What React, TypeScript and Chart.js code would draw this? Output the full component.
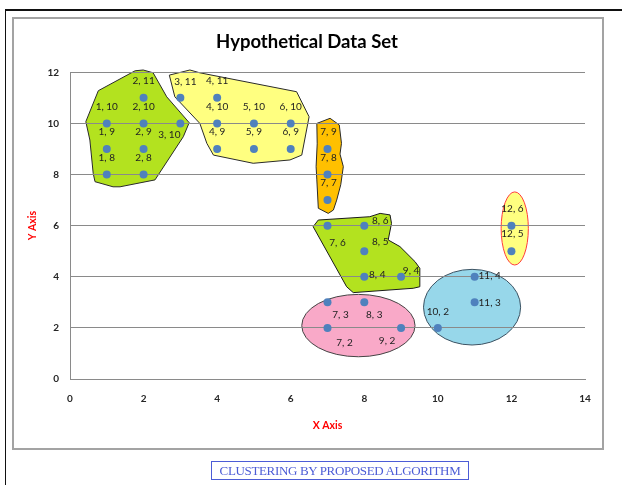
import React, { useEffect, useRef } from "react";
import { Chart, registerables } from "chart.js";

Chart.register(...registerables);

// ---------- text ----------
const TITLE = "Hypothetical Data Set";
const X_TITLE = "X Axis";
const Y_TITLE = "Y Axis";
const CAPTION = "CLUSTERING BY PROPOSED ALGORITHM";

// ---------- data ----------
const X_VALUES = [1, 1, 1, 2, 2, 2, 2, 3, 3, 4, 4, 4, 5, 5, 6, 6, 7, 7, 7, 7, 8, 8, 8, 9, 7, 8, 7, 9, 10, 11, 11, 12, 12];
const Y_VALUES = [10, 9, 8, 11, 10, 9, 8, 11, 10, 11, 10, 9, 10, 9, 10, 9, 9, 8, 7, 6, 6, 5, 4, 4, 3, 3, 2, 2, 2, 4, 3, 6, 5];

const X_TICKS = [0, 2, 4, 6, 8, 10, 12, 14];
const Y_TICKS = [0, 2, 4, 6, 8, 10, 12];

// cluster outlines (data units)
const CLUSTER_GREEN_TOP: [number, number][] = [
  [0.43, 10.07], [0.77, 11.28], [1.77, 12.06], [1.99, 12.09], [2.26, 11.98], [2.63, 11.04],
  [3.24, 10.03], [3.08, 9.48], [2.31, 7.79], [1.36, 7.52], [1.17, 7.52], [0.68, 7.72],
  [0.63, 8.05], [0.54, 9.35],
];
const CLUSTER_YELLOW_TOP: [number, number][] = [
  [2.7, 11.89], [3.26, 12.09], [3.53, 11.98], [6.16, 11.24], [6.5, 10.26], [6.3, 8.76],
  [5.98, 8.57], [4.98, 8.44], [3.9, 8.76], [3.72, 9.22], [3.53, 10.0], [2.85, 11.04],
];
const CLUSTER_ORANGE: [number, number][] = [
  [6.71, 10.0], [7.07, 10.2], [7.32, 9.94], [7.38, 9.22], [7.34, 8.8], [7.43, 8.31],
  [7.36, 7.6], [7.25, 7.0], [7.16, 6.61], [7.02, 6.48], [6.75, 6.68], [6.71, 7.79],
  [6.69, 8.31], [6.72, 9.2],
];
const CLUSTER_GREEN_MID: [number, number][] = [
  [6.61, 5.96], [6.75, 6.22], [8.15, 6.35], [8.43, 6.48], [8.7, 6.42], [8.74, 6.09],
  [8.65, 5.44], [8.97, 5.18], [9.38, 4.59], [9.51, 4.33], [9.51, 3.61], [9.33, 3.55],
  [7.7, 3.38], [7.52, 3.61],
];
// ellipses: [centerX, centerY, radiusX, radiusY] in data units
const CLUSTER_PINK = [7.84, 2.09, 1.54, 1.22];
const CLUSTER_BLUE = [10.93, 2.81, 1.32, 1.48];
const CLUSTER_SMALL = [12.09, 5.89, 0.37, 1.43];

// ---------- styles ----------
const POLYGON_SHAPES = [CLUSTER_GREEN_TOP, CLUSTER_YELLOW_TOP, CLUSTER_ORANGE, CLUSTER_GREEN_MID];
const POLYGON_FILLS = ["#b3e21f", "#ffff80", "#ffc000", "#b3e21f"];
const POLYGON_STROKES = ["#2a2a2a", "#2a2a2a", "#2a2a2a", "#1a1a1a"];
const ELLIPSE_SHAPES = [CLUSTER_PINK, CLUSTER_BLUE, CLUSTER_SMALL];
const ELLIPSE_FILLS = ["#f9a9c8", "#97d7ea", "#ffff80"];
const ELLIPSE_STROKES = ["#444444", "#3c5262", "#ff3b3b"];

// label offsets from each point (pixels)
const LABEL_DX = [0, 0, 0, 0, 0, 0, 0, 5, -11, 0, 0, 0, 0, 0, 0, 0, 1, 1, 1, 10, 16, 16, 13, 10, 13, 10, 17, -14, 0, 15, 15, 1, 1];
const LABEL_DY = [-17, -17, -17, -17, -17, -17, -17, -16, 11, -17, -17, -17, -17, -17, -17, -17, -17, -17, -17, 17, -5, -9, -2, -6, 12, 12, 15, 13, -16, -1, 0, -17, -17];

const clusterPlugin = {
  id: "clusters",
  beforeDraw(chart: any) {
    const { ctx } = chart;
    const xs = chart.scales.x;
    const ys = chart.scales.y;
    ctx.save();
    ctx.lineJoin = "round";
    POLYGON_SHAPES.forEach((poly, k) => {
      ctx.beginPath();
      poly.forEach(([vx, vy], i) => {
        const px = xs.getPixelForValue(vx);
        const py = ys.getPixelForValue(vy);
        if (i === 0) ctx.moveTo(px, py);
        else ctx.lineTo(px, py);
      });
      ctx.closePath();
      ctx.fillStyle = POLYGON_FILLS[k];
      ctx.fill();
      ctx.lineWidth = 1;
      ctx.strokeStyle = POLYGON_STROKES[k];
      ctx.stroke();
    });
    ELLIPSE_SHAPES.forEach((e, k) => {
      const [cx, cy, rx, ry] = e;
      const pcx = xs.getPixelForValue(cx);
      const pcy = ys.getPixelForValue(cy);
      const prx = Math.abs(xs.getPixelForValue(cx + rx) - pcx);
      const pry = Math.abs(ys.getPixelForValue(cy + ry) - pcy);
      ctx.beginPath();
      ctx.ellipse(pcx, pcy, prx, pry, 0, 0, Math.PI * 2);
      ctx.fillStyle = ELLIPSE_FILLS[k];
      ctx.fill();
      ctx.lineWidth = 1;
      ctx.strokeStyle = ELLIPSE_STROKES[k];
      ctx.stroke();
    });
    ctx.restore();
  },
};

const labelPlugin = {
  id: "pointLabels",
  afterDatasetsDraw(chart: any) {
    const { ctx } = chart;
    const meta = chart.getDatasetMeta(0);
    ctx.save();
    ctx.font = "10px Lato";
    ctx.fillStyle = "#222222";
    ctx.textAlign = "center";
    ctx.textBaseline = "middle";
    meta.data.forEach((el: any, i: number) => {
      ctx.fillText(`${X_VALUES[i]}, ${Y_VALUES[i]}`, el.x + LABEL_DX[i], el.y + LABEL_DY[i]);
    });
    ctx.restore();
  },
};

export default function App() {
  const canvasRef = useRef<HTMLCanvasElement | null>(null);

  useEffect(() => {
    if (!canvasRef.current) return;
    const chart = new Chart(canvasRef.current, {
      type: "scatter",
      data: {
        datasets: [
          {
            data: X_VALUES.map((x, i) => ({ x, y: Y_VALUES[i] })),
            backgroundColor: "#4f81bd",
            borderColor: "#4f81bd",
            pointRadius: 4,
            pointBorderWidth: 0,
          },
        ],
      },
      options: {
        animation: false,
        responsive: false,
        devicePixelRatio: 1,
        layout: { padding: { left: 0, right: 8, top: 0, bottom: 0 } },
        plugins: {
          legend: { display: false },
          tooltip: { enabled: false },
          title: {
            display: true,
            text: TITLE,
            color: "#000000",
            font: { family: "Lato", size: 18.5, weight: "bold" },
            padding: { top: 31, bottom: 19.1 },
          },
        },
        scales: {
          x: {
            type: "linear",
            min: X_TICKS[0],
            max: X_TICKS[X_TICKS.length - 1],
            afterBuildTicks: (scale: any) => {
              scale.ticks = X_TICKS.map((v) => ({ value: v }));
            },
            afterFit: (scale: any) => {
              scale.height = 106;
            },
            grid: { display: false, drawTicks: false },
            border: { display: true, color: "#8a8a8a", width: 1 },
            ticks: {
              padding: 14,
              color: "#262626",
              font: { family: "Lato", size: 10, weight: "bold" },
            },
            title: {
              display: true,
              text: X_TITLE,
              color: "#ff0000",
              font: { family: "Lato", size: 10.5, weight: "bold" },
              padding: { top: 0, bottom: 53.5 },
            },
          },
          y: {
            type: "linear",
            min: Y_TICKS[0],
            max: Y_TICKS[Y_TICKS.length - 1],
            afterBuildTicks: (scale: any) => {
              scale.ticks = Y_TICKS.map((v) => ({ value: v }));
            },
            afterFit: (scale: any) => {
              scale.width = 70;
            },
            grid: { display: true, drawTicks: false, color: "#8a8a8a", lineWidth: 1 },
            border: { display: true, color: "#8a8a8a", width: 1 },
            ticks: {
              padding: 11,
              color: "#262626",
              font: { family: "Lato", size: 10, weight: "bold" },
            },
            title: {
              display: true,
              text: Y_TITLE,
              color: "#ff0000",
              font: { family: "Lato", size: 10.5, weight: "bold" },
              padding: { top: 26, bottom: 0 },
            },
          },
          yRight: {
            type: "linear",
            position: "right",
            display: true,
            min: 0,
            max: 12,
            afterFit: (scale: any) => {
              scale.width = 29;
            },
            grid: { display: false, drawTicks: false },
            border: { display: false },
            ticks: { display: false },
          },
        },
      },
      plugins: [clusterPlugin, labelPlugin],
    } as any);
    return () => chart.destroy();
  }, []);

  return (
    <div style={{ position: "fixed", left: 0, top: 0, width: 622, height: 485, background: "#ffffff", overflow: "hidden" }}>
      <div
        style={{
          position: "absolute",
          left: 5,
          top: 9,
          width: 617,
          height: 476,
          borderTop: "2px solid #111111",
          borderLeft: "1px solid #111111",
          boxSizing: "border-box",
        }}
      />
      <div
        style={{
          position: "absolute",
          left: 12,
          top: 17,
          width: 592,
          height: 433,
          border: "2px solid #a3a3a3",
          boxSizing: "border-box",
        }}
      />
      <canvas ref={canvasRef} width={622} height={485} style={{ position: "absolute", left: 0, top: 0 }} />
      <div
        style={{
          position: "absolute",
          left: 211,
          top: 461,
          width: 258,
          height: 19,
          border: "1px solid #4c5cd6",
          boxSizing: "border-box",
          color: "#4c5cd6",
          fontFamily: "'Liberation Serif', serif",
          fontSize: 13,
          letterSpacing: "-0.35px",
          lineHeight: "17px",
          textAlign: "center",
          whiteSpace: "nowrap",
        }}
      >
        {CAPTION}
      </div>
    </div>
  );
}
